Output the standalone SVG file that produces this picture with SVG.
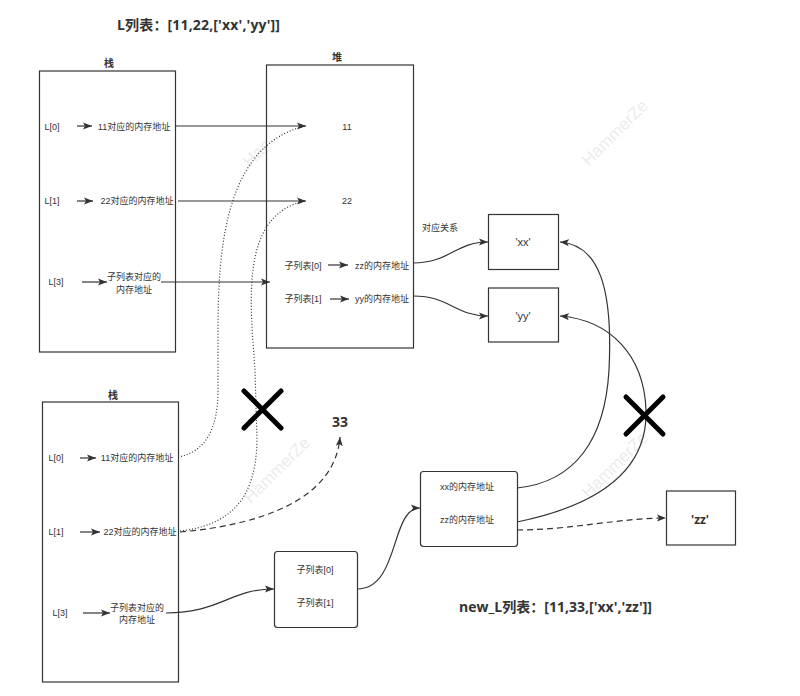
<svg xmlns="http://www.w3.org/2000/svg" width="800" height="696" viewBox="0 0 800 696">
<style>
text{font-family:"Liberation Sans","Noto Sans CJK SC",sans-serif;fill:#333;}
.s{font-size:9px;}
.m{font-size:11px;}
.t{font-size:10px;font-weight:bold;}
.b{font-family:"Open Sans","Noto Sans CJK SC",sans-serif;font-size:14px;font-weight:bold;}
.box{fill:#fff;stroke:#333;stroke-width:1.2;}
.ln{fill:none;stroke:#333;stroke-width:1.2;}
.dot{fill:none;stroke:#333;stroke-width:1.2;stroke-dasharray:1 2;}
.dash{fill:none;stroke:#333;stroke-width:1.2;stroke-dasharray:6 4;}
.x{stroke:#000;stroke-width:5;stroke-linecap:round;}
.wm{font-size:17px;fill:#ececec;}
</style>
<defs>
<marker id="a" markerUnits="userSpaceOnUse" markerWidth="10" markerHeight="8" refX="9" refY="4" orient="auto">
<path d="M0,0.5 L9,4 L0,7.5 L2,4 Z" fill="#333"/>
</marker>
</defs>
<g id="watermarks">
<text class="wm" transform="translate(276,134) rotate(-45)" text-anchor="middle" dominant-baseline="central">HammerZe</text>
<text class="wm" transform="translate(615,133) rotate(-45)" text-anchor="middle" dominant-baseline="central">HammerZe</text>
<text class="wm" transform="translate(277,470) rotate(-45)" text-anchor="middle" dominant-baseline="central">HammerZe</text>
<text class="wm" transform="translate(615,465) rotate(-45)" text-anchor="middle" dominant-baseline="central">HammerZe</text>
</g>
<g id="title1"><text class="b" x="117" y="30" textLength="163" lengthAdjust="spacing">L列表：[11,22,['xx','yy']]</text></g>
<g id="title2"><text class="b" x="459" y="612" textLength="193" lengthAdjust="spacing">new_L列表：[11,33,['xx','zz']]</text></g>

<g id="stack1">
<rect class="box" x="39.5" y="71" width="136" height="281"/>
<text class="t" x="109" y="63" text-anchor="middle" dominant-baseline="central">栈</text>
<text class="s" x="52" y="127" text-anchor="middle" dominant-baseline="central">L[0]</text>
<text class="s" x="134" y="127" text-anchor="middle" dominant-baseline="central">11对应的内存地址</text>
<text class="s" x="52" y="201" text-anchor="middle" dominant-baseline="central">L[1]</text>
<text class="s" x="137" y="201" text-anchor="middle" dominant-baseline="central">22对应的内存地址</text>
<text class="s" x="56" y="282" text-anchor="middle" dominant-baseline="central">L[3]</text>
<text class="s" x="134" y="277" text-anchor="middle" dominant-baseline="central">子列表对应的</text>
<text class="s" x="134" y="290" text-anchor="middle" dominant-baseline="central">内存地址</text>
</g>

<g id="heap">
<rect class="box" x="266.5" y="65" width="147" height="283"/>
<text class="t" x="337" y="57" text-anchor="middle" dominant-baseline="central">堆</text>
<text class="s" x="347" y="127" text-anchor="middle" dominant-baseline="central">11</text>
<text class="s" x="347" y="201" text-anchor="middle" dominant-baseline="central">22</text>
<text class="s" x="303" y="266" text-anchor="middle" dominant-baseline="central">子列表[0]</text>
<text class="s" x="382" y="266" text-anchor="middle" dominant-baseline="central">zz的内存地址</text>
<text class="s" x="303" y="299" text-anchor="middle" dominant-baseline="central">子列表[1]</text>
<text class="s" x="382" y="299" text-anchor="middle" dominant-baseline="central">yy的内存地址</text>
</g>

<g id="relation"><text class="s" x="440" y="228" text-anchor="middle" dominant-baseline="central">对应关系</text></g>

<g id="xx">
<rect class="box" x="488.5" y="214.5" width="70" height="55"/>
<text class="m" x="523" y="242" text-anchor="middle" dominant-baseline="central">'xx'</text>
</g>
<g id="yy">
<rect class="box" x="488.5" y="288" width="70" height="54"/>
<text class="m" x="523" y="316" text-anchor="middle" dominant-baseline="central">'yy'</text>
</g>

<g id="stack2">
<rect class="box" x="42.5" y="402" width="136" height="280"/>
<text class="t" x="113" y="395" text-anchor="middle" dominant-baseline="central">栈</text>
<text class="s" x="56" y="458" text-anchor="middle" dominant-baseline="central">L[0]</text>
<text class="s" x="137" y="458" text-anchor="middle" dominant-baseline="central">11对应的内存地址</text>
<text class="s" x="56" y="532" text-anchor="middle" dominant-baseline="central">L[1]</text>
<text class="s" x="140" y="532" text-anchor="middle" dominant-baseline="central">22对应的内存地址</text>
<text class="s" x="60" y="613" text-anchor="middle" dominant-baseline="central">L[3]</text>
<text class="s" x="137" y="608" text-anchor="middle" dominant-baseline="central">子列表对应的</text>
<text class="s" x="137" y="620" text-anchor="middle" dominant-baseline="central">内存地址</text>
</g>

<g id="n33"><text class="b" x="340" y="421" text-anchor="middle" dominant-baseline="central">33</text></g>

<g id="sublist">
<rect class="box" x="274.5" y="551.5" width="83" height="76" rx="3"/>
<text class="s" x="315" y="570" text-anchor="middle" dominant-baseline="central">子列表[0]</text>
<text class="s" x="315" y="603" text-anchor="middle" dominant-baseline="central">子列表[1]</text>
</g>

<g id="addrs">
<rect class="box" x="420.5" y="471.5" width="97" height="75" rx="3"/>
<text class="s" x="467" y="487" text-anchor="middle" dominant-baseline="central">xx的内存地址</text>
<text class="s" x="467" y="520" text-anchor="middle" dominant-baseline="central">zz的内存地址</text>
</g>

<g id="zz">
<rect class="box" x="666.5" y="491" width="69" height="54"/>
<text class="b" x="700" y="519" text-anchor="middle" dominant-baseline="central" style="font-size:12px">'zz'</text>
</g>

<g id="connectors">
<path class="ln" d="M77,126 H92" marker-end="url(#a)"/>
<path class="ln" d="M77,201 H93" marker-end="url(#a)"/>
<path class="ln" d="M82,282 H107" marker-end="url(#a)"/>
<path class="ln" d="M175,126 H306" marker-end="url(#a)"/>
<path class="ln" d="M178,201 H306" marker-end="url(#a)"/>
<path class="ln" d="M161,282 H270" marker-end="url(#a)"/>
<path class="ln" d="M328,265 H348" marker-end="url(#a)"/>
<path class="ln" d="M330,299 H349" marker-end="url(#a)"/>
<path class="ln" d="M413,263 C450,263 455,242 488,242" marker-end="url(#a)"/>
<path class="ln" d="M413,296 C450,296 455,316 488,316" marker-end="url(#a)"/>
<path class="ln" d="M80,458 H96" marker-end="url(#a)"/>
<path class="ln" d="M80,532 H100" marker-end="url(#a)"/>
<path class="ln" d="M83,613 H110" marker-end="url(#a)"/>
<path class="dot" d="M178,457 C205,452 218,430 218,390 L218,330 C218,240 228,145 305,126"/>
<path class="dot" d="M180,531 C230,525 256,500 257,440 L255,370 C250,300 240,215 305,201"/>
<path class="dash" d="M180,532 C260,525 335,500 340,437" marker-end="url(#a)"/>
<path class="ln" d="M166,613 C220,613 230,589 274,589" marker-end="url(#a)"/>
<path class="ln" d="M357,589 C400,589 390,508 420,508" marker-end="url(#a)"/>
<path class="ln" d="M517,488 C575,482 605,440 609,370 C613,290 600,245 560,242" marker-end="url(#a)"/>
<path class="ln" d="M517,522 C600,505 648,470 646,410 C644,355 610,320 560,316" marker-end="url(#a)"/>
<path class="dash" d="M517,530 C570,530 620,518 666,518" marker-end="url(#a)"/>
</g>

<g id="cross1"><path class="x" d="M244,391 L281,428 M281,391 L244,428"/></g>
<g id="cross2"><path class="x" d="M626,397 L663,434 M663,397 L626,434"/></g>
</svg>
